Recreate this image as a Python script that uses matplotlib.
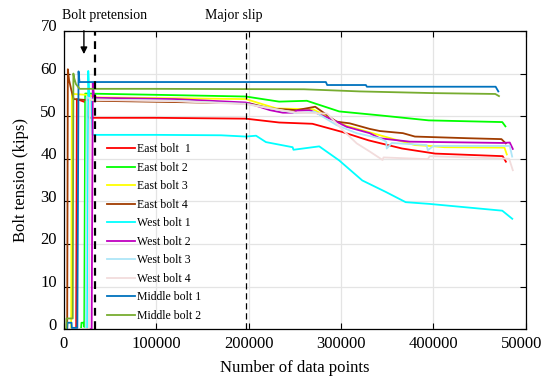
import matplotlib
matplotlib.use("Agg")
import matplotlib.pyplot as plt
import matplotlib.transforms as mtransforms

plt.rcParams['font.family'] = ['Liberation Serif', 'DejaVu Serif']

# series: (data point index, bolt tension in kips)
east1_x = [0, 13200, 14000, 24000, 25500, 27000, 100000, 197000, 233000, 269000, 301000, 330000, 366000, 402000, 475000, 478500]
east1_y = [0, 0, 54.0, 53.2, 50.0, 49.6, 49.6, 49.4, 48.5, 48.2, 46.3, 44.3, 42.4, 41.2, 40.6, 39.3]

east2_x = [0, 18500, 19000, 21500, 22000, 23000, 100000, 197000, 233000, 263000, 298000, 341000, 395000, 474600, 478000]
east2_y = [0, 0, 1.5, 1.5, 0.5, 55.3, 55.0, 54.6, 53.4, 53.6, 51.1, 50.2, 49.0, 48.6, 47.6]

east3_x = [0, 7800, 8600, 9500, 25000, 35000, 197000, 230000, 269700, 290000, 305000, 334000, 380000, 396000, 412000, 477000, 479500]
east3_y = [0, 0, 55.8, 55.2, 55.0, 54.4, 54.0, 51.8, 51.6, 49.3, 47.8, 46.0, 43.2, 43.0, 42.7, 42.6, 41.0]

east4_x = [0, 3500, 4200, 5500, 8000, 10500, 35000, 120000, 197000, 201000, 223000, 252000, 272000, 295000, 309500, 331000, 342000, 367000, 380000, 439000, 473700, 478400]
east4_y = [0, 0, 61.0, 58.5, 56.1, 54.0, 53.6, 53.3, 53.0, 53.0, 51.8, 51.4, 52.2, 48.7, 48.3, 47.0, 46.5, 46.0, 45.2, 44.8, 44.6, 43.6]

west1_x = [0, 24800, 26300, 27500, 29500, 31000, 100000, 170000, 197000, 208000, 218700, 247600, 248500, 276400, 298000, 323000, 348500, 370000, 395300, 474600, 485400]
west1_y = [0, 0, 60.6, 54.5, 54.0, 45.6, 45.6, 45.5, 45.2, 45.4, 43.9, 42.7, 42.1, 42.9, 39.6, 34.9, 32.2, 29.8, 29.4, 27.8, 25.9]

west2_x = [0, 30000, 31200, 32500, 35000, 120000, 197000, 223000, 237000, 248000, 252000, 266000, 291500, 306000, 331000, 342000, 374500, 475000, 482700, 486000]
west2_y = [0, 0, 57.7, 54.8, 54.3, 54.0, 53.2, 51.4, 50.8, 50.8, 51.3, 51.4, 49.1, 47.5, 46.0, 44.8, 44.0, 43.7, 43.8, 42.3]

west3_x = [0, 23500, 24500, 30000, 120000, 197000, 251800, 271700, 295100, 316800, 342000, 349000, 349500, 355000, 392600, 394000, 400000, 482700, 485300]
west3_y = [0, 0, 54.5, 53.9, 53.6, 52.9, 50.7, 51.0, 47.9, 46.0, 44.8, 44.0, 42.4, 43.7, 43.2, 42.0, 43.0, 43.0, 40.5]

west4_x = [0, 27000, 28000, 30000, 120000, 197000, 251800, 285000, 302000, 317000, 331000, 345000, 346000, 394000, 396000, 482000, 486000]
west4_y = [0, 0, 54.3, 53.8, 53.5, 52.8, 50.8, 50.6, 46.7, 43.6, 41.7, 39.7, 40.3, 39.9, 40.6, 40.0, 37.3]

mid1_x = [0, 3500, 3800, 8200, 8500, 14500, 15800, 16800, 150000, 283600, 285000, 326900, 328000, 467400, 470300]
mid1_y = [0, 0, 1.5, 1.5, 0.3, 0.3, 60.5, 58.0, 58.0, 58.0, 57.3, 57.3, 56.9, 56.9, 55.8]

mid2_x = [0, 2500, 2800, 9500, 10200, 11000, 13000, 17000, 100000, 260000, 320000, 400000, 467000, 471000]
mid2_y = [0, 0, 2.5, 2.5, 60.0, 59.0, 57.5, 56.4, 56.4, 56.3, 55.8, 55.4, 55.2, 54.7]

labels = ['East bolt  1', 'East bolt 2', 'East bolt 3', 'East bolt 4',
          'West bolt 1', 'West bolt 2', 'West bolt 3', 'West bolt 4',
          'Middle bolt 1', 'Middle bolt 2']
colors = ['#ff0000', '#00ff00', '#ffff00', '#a03c00',
          '#00ffff', '#bf00bf', '#aee6f8', '#f2dcdc',
          '#0072bd', '#77ac30']
series = [(east1_x, east1_y), (east2_x, east2_y), (east3_x, east3_y), (east4_x, east4_y),
          (west1_x, west1_y), (west2_x, west2_y), (west3_x, west3_y), (west4_x, west4_y),
          (mid1_x, mid1_y), (mid2_x, mid2_y)]

pretension_x = 33500
slip_x = 197000

fig = plt.figure(figsize=(5.42, 3.77), dpi=100)
ax = fig.add_axes([0.118, 0.127, 0.852, 0.791])

for (xs, ys), lab, c in zip(series, labels, colors):
    ax.plot(xs, ys, color=c, lw=1.3, label=lab)

ax.axvline(pretension_x, color='black', lw=1.6, ls=(0, (3.5, 2.5)))
ax.axvline(slip_x, color='black', lw=0.9, ls=(0, (5, 3)))

ax.set_xlim(0, 500000)
ax.set_ylim(0, 70)
ax.set_xticks([0, 100000, 200000, 300000, 400000, 500000])
ax.set_yticks(range(0, 71, 10))
ax.grid(True, color='#e4e4e4', lw=0.9)
ax.set_axisbelow(True)
ax.tick_params(direction='in', top=True, right=True, length=4, width=0.8,
               labelsize=12, pad=5)
for s in ax.spines.values():
    s.set_linewidth(0.9)

# y tick labels sit a little above their ticks
shift = mtransforms.ScaledTranslation(0, 5.5 / 100, fig.dpi_scale_trans)
for lbl in ax.get_yticklabels():
    lbl.set_transform(lbl.get_transform() + shift)

ax.set_xlabel('Number of data points', fontsize=12, labelpad=6)
ax.set_ylabel('Bolt tension (kips)', fontsize=12, labelpad=8)

ax.text(44400, 73.6, 'Bolt pretension', fontsize=10, ha='center', va='center')
ax.text(184000, 73.6, 'Major slip', fontsize=10, ha='center', va='center')
ax.annotate('', xy=(21600, 63.9), xytext=(21600, 70.7),
            arrowprops=dict(arrowstyle='-|>', color='black', lw=1.0,
                            mutation_scale=10),
            annotation_clip=False)

ax.legend(loc='upper left', bbox_to_anchor=(0.094, 0.623), frameon=False,
          fontsize=8.5, handlelength=2.3, handletextpad=0.25,
          labelspacing=0.55, borderpad=0, borderaxespad=0)

fig.savefig('out.png', dpi=100)
